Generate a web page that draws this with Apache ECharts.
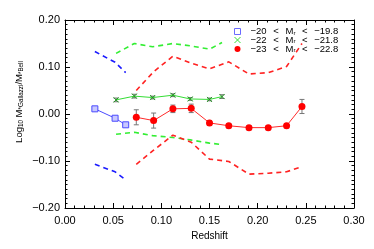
<!DOCTYPE html>
<html><head><meta charset="utf-8">
<script src="https://cdn.jsdelivr.net/npm/echarts@6/dist/echarts.min.js"></script>
<style>html,body{margin:0;padding:0;background:#fff}#c{width:374px;height:249px}</style>
</head><body><div id="c"></div>
<script>
const xTicks = [0, 0.05, 0.10, 0.15, 0.20, 0.25, 0.30];
const yTicks = [-0.20, -0.10, 0.00, 0.10, 0.20];

const blueX = [0.031, 0.052, 0.063];
const blueY = [0.011, -0.009, -0.023];
const blueUpper = [0.133, 0.110, 0.088];
const blueLower = [-0.107, -0.123, -0.140];

const greenX = [0.053, 0.072, 0.091, 0.112, 0.130, 0.150, 0.163];
const greenY = [0.030, 0.038, 0.035, 0.040, 0.032, 0.031, 0.037];
const greenErr = [0.004, 0.004, 0.003, 0.003, 0.003, 0.003, 0.004];
const greenUpper = [0.129, 0.150, 0.143, 0.150, 0.145, 0.138, 0.152];
const greenLower = [-0.043, -0.039, -0.046, -0.050, -0.055, -0.062, -0.065];

const redX = [0.074, 0.092, 0.112, 0.131, 0.150, 0.170, 0.191, 0.211, 0.230, 0.246];
const redY = [-0.007, -0.014, 0.011, 0.012, -0.019, -0.025, -0.029, -0.029, -0.025, 0.016];
const redErr = [0.016, 0.016, 0.008, 0.009, 0.005, 0.004, 0.004, 0.004, 0.004, 0.015];
const redUpper = [0.050, 0.090, 0.123, 0.108, 0.096, 0.111, 0.085, 0.088, 0.101, 0.150];
const redLower = [-0.107, -0.077, -0.045, -0.060, -0.096, -0.101, -0.128, -0.126, -0.123, -0.112];

const S = '\u2002\u2009';
const legendNames = [
  '−20' + S + '<' + S + 'M{s|r}' + S + '<' + S + '−19.8',
  '−22' + S + '<' + S + 'M{s|r}' + S + '<' + S + '−21.8',
  '−23' + S + '<' + S + 'M{s|r}' + S + '<' + S + '−22.8'
];

const zip = (xs, ys) => xs.map((x, i) => [x, ys[i]]);
const fmt = v => (v < 0 ? '−' : '') + Math.abs(v).toFixed(2);

function errSeries(xs, ys, es, color) {
  return {
    type: 'custom', silent: true, z: 3,
    data: xs.map((x, i) => [x, ys[i] - es[i], ys[i] + es[i]]),
    renderItem: (params, api) => {
      const lo = api.coord([api.value(0), api.value(1)]);
      const hi = api.coord([api.value(0), api.value(2)]);
      const w = 2.5;
      const st = { stroke: color, lineWidth: 1 };
      return { type: 'group', children: [
        { type: 'line', shape: { x1: lo[0], y1: lo[1], x2: hi[0], y2: hi[1] }, style: st },
        { type: 'line', shape: { x1: lo[0] - w, y1: lo[1], x2: lo[0] + w, y2: lo[1] }, style: st },
        { type: 'line', shape: { x1: hi[0] - w, y1: hi[1], x2: hi[0] + w, y2: hi[1] }, style: st }
      ]};
    }
  };
}
function dashed(xs, ys, color) {
  return { type: 'line', data: zip(xs, ys), symbol: 'none', silent: true, z: 2,
    lineStyle: { color: color, width: 1.6, type: [5, 4] } };
}

const font = 'Liberation Sans, Arial, sans-serif';
const chart = echarts.init(document.getElementById('c'), null, { renderer: 'canvas' });
const axisLine = { show: true, onZero: false, lineStyle: { color: '#000', width: 1 } };
const axisTick = { show: true, inside: true, length: 5, lineStyle: { color: '#000' } };
const minor = n => ({ show: true, splitNumber: n, length: 2.5, lineStyle: { color: '#000' } });
chart.setOption({
  animation: false,
  grid: { left: 65, right: 20, top: 20, bottom: 41 },
  legend: {
    orient: 'vertical', left: 232, top: 26, itemGap: -2, itemWidth: 6, itemHeight: 6,
    padding: 0,
    textStyle: { fontFamily: font, fontSize: 9.5, lineHeight: 9, color: '#000', padding: [0, 0, 0, 5],
      rich: { s: { fontSize: 6, lineHeight: 9, verticalAlign: 'bottom', padding: [4, 0, 0, 0] } } },
    data: [
      { name: legendNames[0], icon: 'rect', itemStyle: { color: '#fff', borderColor: '#6a6aff', borderWidth: 1 } },
      { name: legendNames[1], icon: 'path://M0,0L10,10M10,0L0,10', itemStyle: { color: 'none', borderColor: '#33dd33', borderWidth: 1 } },
      { name: legendNames[2], icon: 'circle', itemStyle: { color: '#ff0000' } }
    ]
  },
  xAxis: [
    { type: 'value', min: 0, max: 0.3, interval: 0.05, position: 'bottom',
      name: 'Redshift', nameLocation: 'middle', nameGap: 20,
      nameTextStyle: { fontFamily: font, fontSize: 10, color: '#000' },
      axisLine, axisTick, splitLine: { show: false }, minorTick: minor(5),
      axisLabel: { fontFamily: font, fontSize: 11, color: '#000', margin: 7, formatter: v => fmt(v) } },
    { type: 'value', min: 0, max: 0.3, interval: 0.05, position: 'top',
      axisLine, axisTick, splitLine: { show: false }, minorTick: minor(5), axisLabel: { show: false } }
  ],
  yAxis: [
    { type: 'value', min: -0.2, max: 0.2, interval: 0.1, position: 'left',
      axisLine, axisTick, splitLine: { show: false }, minorTick: minor(10),
      axisLabel: { fontFamily: font, fontSize: 11, color: '#000', margin: 5, formatter: v => fmt(v) } },
    { type: 'value', min: -0.2, max: 0.2, interval: 0.1, position: 'right',
      axisLine, axisTick, splitLine: { show: false }, minorTick: minor(10), axisLabel: { show: false } }
  ],
  graphic: [{
    type: 'text', x: 19, y: 102, rotation: Math.PI / 2,
    style: {
      text: 'Log{s|10} M{t|*Gallazzi}/M{t|*Bell}',
      fontFamily: font, fontSize: 9.5, fill: '#000', align: 'center', verticalAlign: 'middle',
      rich: { s: { fontSize: 6.3, fontFamily: font, padding: [4, 0, 0, 0] }, t: { fontSize: 6.3, fontFamily: font, padding: [4, 0, 0, 0] } }
    }
  }],
  series: [
    dashed(blueX, blueUpper, '#1a1aff'),
    dashed(blueX, blueLower, '#1a1aff'),
    dashed(greenX, greenUpper, '#33ee33'),
    dashed(greenX, greenLower, '#33ee33'),
    dashed(redX, redUpper, '#ff2222'),
    dashed(redX, redLower, '#ff2222'),
    errSeries(greenX, greenY, greenErr, '#777'),
    errSeries(redX, redY, redErr, '#777'),
    { name: legendNames[0], type: 'line', data: zip(blueX, blueY), symbol: 'rect', symbolSize: 6, z: 4,
      lineStyle: { color: '#4a4aff', width: 1 }, itemStyle: { color: '#c8c8ff', borderColor: '#4a4aff', borderWidth: 1 } },
    { name: legendNames[1], type: 'line', data: zip(greenX, greenY), symbol: 'path://M0,0L10,10M10,0L0,10', symbolSize: 5, z: 4,
      lineStyle: { color: '#33dd33', width: 1 }, itemStyle: { color: 'none', borderColor: '#229922', borderWidth: 1 } },
    { name: legendNames[2], type: 'line', data: zip(redX, redY), symbol: 'circle', symbolSize: 7, z: 4,
      lineStyle: { color: '#ff2a2a', width: 1 }, itemStyle: { color: '#ff0000' } }
  ]
});
</script></body></html>
